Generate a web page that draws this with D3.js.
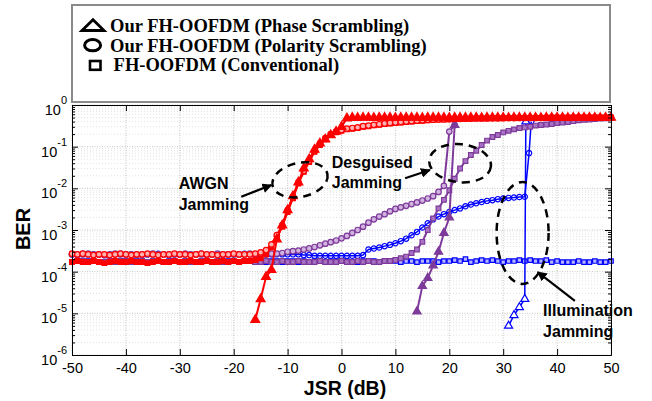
<html>
<head>
<meta charset="utf-8">
<style>
    body { margin: 0; background: #fff; }
    .sans { font-family: Arial, "Liberation Sans", sans-serif; }
    .serif { font-family: "Liberation Serif", "Times New Roman", serif; }
</style>
</head>
<body>
<svg id="chart" width="652" height="401"></svg>
<script src="https://cdn.jsdelivr.net/npm/d3@7/dist/d3.min.js"></script>
<script>
    // ---- data (BER vs JSR in dB) ----
    const jsr = d3.range(-50, 51);
    const xTicks = [-50, -40, -30, -20, -10, 0, 10, 20, 30, 40, 50];
    const yExps = [0, -1, -2, -3, -4, -5, -6];
    const legendLabels = ["Our FH-OOFDM (Phase Scrambling)", "Our FH-OOFDM (Polarity Scrambling)", "FH-OOFDM (Conventional)"];

    // AWGN jamming (red)
    const awgnPhaseJsr = d3.range(-16, 51);
    const awgnPhase = [
        7e-6, 2.2e-5, 7.5e-5, 1.1e-4, 6e-4, 1.3e-3, 3e-3, 6.5e-3, 1.4e-2, 3e-2,
        5e-2, 8.5e-2, 0.12, 0.15, 0.19, 0.23, 0.3, 0.48, 0.5, 0.49,
        0.5, 0.5, 0.49, 0.5, 0.5, 0.5, 0.49, 0.5, 0.5, 0.5,
        0.5, 0.49, 0.5, 0.5, 0.5, 0.5, 0.49, 0.5, 0.5, 0.5,
        0.5, 0.5, 0.49, 0.5, 0.5, 0.5, 0.5, 0.49, 0.5, 0.5,
        0.5, 0.5, 0.5, 0.49, 0.5, 0.5, 0.5, 0.5, 0.49, 0.5,
        0.5, 0.5, 0.5, 0.5, 0.49, 0.5, 0.5];
    const awgnPolarity = [
        2.7e-4, 2.6e-4, 2.7e-4, 2.6e-4, 2.5e-4, 2.6e-4, 2.6e-4, 2.5e-4, 2.6e-4, 2.7e-4,
        2.6e-4, 2.5e-4, 2.6e-4, 2.6e-4, 2.7e-4, 2.6e-4, 2.5e-4, 2.6e-4, 2.6e-4, 2.7e-4,
        2.6e-4, 2.6e-4, 2.5e-4, 2.6e-4, 2.7e-4, 2.6e-4, 2.6e-4, 2.5e-4, 2.6e-4, 2.6e-4,
        2.7e-4, 2.6e-4, 2.6e-4, 2.6e-4, 2.7e-4, 2.9e-4, 3.3e-4, 4.5e-4, 7.5e-4, 1.3e-3,
        3e-3, 6.3e-3, 1.4e-2, 2.6e-2, 4.5e-2, 8e-2, 0.12, 0.16, 0.2, 0.23,
        0.25, 0.27, 0.28, 0.29, 0.31, 0.32, 0.335, 0.345, 0.36, 0.37,
        0.38, 0.39, 0.4, 0.41, 0.42, 0.43, 0.44, 0.445, 0.45, 0.455,
        0.46, 0.465, 0.465, 0.47, 0.47, 0.475, 0.475, 0.48, 0.48, 0.48,
        0.485, 0.485, 0.485, 0.49, 0.49, 0.49, 0.49, 0.49, 0.495, 0.495,
        0.495, 0.495, 0.495, 0.5, 0.5, 0.5, 0.5, 0.5, 0.5, 0.5, 0.5];
    const awgnConv = [
        1.7e-4, 1.8e-4, 1.7e-4, 1.7e-4, 1.8e-4, 1.7e-4, 1.6e-4, 1.7e-4, 1.8e-4, 1.7e-4,
        1.7e-4, 1.8e-4, 1.7e-4, 1.7e-4, 1.6e-4, 1.7e-4, 1.8e-4, 1.7e-4, 1.7e-4, 1.8e-4,
        1.7e-4, 1.7e-4, 1.8e-4, 1.7e-4, 1.7e-4, 1.8e-4, 1.7e-4, 1.7e-4, 1.8e-4, 1.7e-4,
        1.8e-4, 1.7e-4, 1.8e-4, 1.8e-4, 1.9e-4, 2.1e-4, 2.6e-4, 3.8e-4, 6.5e-4, 1.2e-3,
        2.7e-3, 5.8e-3, 1.3e-2, 2.5e-2, 4.3e-2, 7.5e-2, 0.11, 0.15, 0.19, 0.22,
        0.24, 0.26, 0.27, 0.28, 0.3, 0.31, 0.325, 0.335, 0.35, 0.36,
        0.37, 0.38, 0.39, 0.4, 0.41, 0.42, 0.43, 0.44, 0.445, 0.45,
        0.455, 0.46, 0.46, 0.465, 0.47, 0.47, 0.475, 0.475, 0.48, 0.48,
        0.48, 0.485, 0.485, 0.485, 0.49, 0.49, 0.49, 0.49, 0.49, 0.495,
        0.495, 0.495, 0.495, 0.5, 0.5, 0.5, 0.5, 0.5, 0.5, 0.5, 0.5];

    // Desguised jamming (purple)
    const disgPhaseJsr = [14, 15, 16, 17, 18, 19, 20, 21];
    const disgPhase = [1.1e-5, 4.5e-5, 7e-5, 1.4e-4, 3e-4, 8.5e-4, 2e-3, 0.33];
    const disgPolarityJsr = d3.range(-50, 22);
    const disgPolarity = [
        2.6e-4, 2.5e-4, 2.6e-4, 2.7e-4, 2.6e-4, 2.6e-4, 2.5e-4, 2.6e-4, 2.7e-4, 2.6e-4,
        2.6e-4, 2.6e-4, 2.5e-4, 2.6e-4, 2.6e-4, 2.7e-4, 2.6e-4, 2.6e-4, 2.5e-4, 2.6e-4,
        2.6e-4, 2.7e-4, 2.6e-4, 2.6e-4, 2.6e-4, 2.5e-4, 2.6e-4, 2.7e-4, 2.6e-4, 2.6e-4,
        2.6e-4, 2.6e-4, 2.6e-4, 2.7e-4, 2.6e-4, 2.6e-4, 2.6e-4, 2.7e-4, 2.7e-4, 2.8e-4,
        3e-4, 3.1e-4, 3.2e-4, 3.4e-4, 3.6e-4, 3.9e-4, 4.3e-4, 4.7e-4, 5.1e-4, 5.6e-4,
        6.3e-4, 7.2e-4, 8.5e-4, 1e-3, 1.2e-3, 1.5e-3, 1.8e-3, 2.1e-3, 2.4e-3, 2.8e-3,
        3.2e-3, 3.5e-3, 3.8e-3, 4.2e-3, 4.6e-3, 5.1e-3, 5.7e-3, 6.5e-3, 8.2e-3, 1.15e-2,
        0.23, 0.33];
    const disgConv = [
        1.7e-4, 1.8e-4, 1.8e-4, 1.7e-4, 1.8e-4, 1.7e-4, 1.7e-4, 1.8e-4, 1.7e-4, 1.8e-4,
        1.8e-4, 1.7e-4, 1.7e-4, 1.8e-4, 1.7e-4, 1.8e-4, 1.8e-4, 1.7e-4, 1.7e-4, 1.8e-4,
        1.7e-4, 1.8e-4, 1.7e-4, 1.7e-4, 1.8e-4, 1.8e-4, 1.7e-4, 1.8e-4, 1.7e-4, 1.7e-4,
        1.8e-4, 1.7e-4, 1.8e-4, 1.8e-4, 1.7e-4, 1.7e-4, 1.8e-4, 1.7e-4, 1.7e-4, 1.8e-4,
        1.7e-4, 1.7e-4, 1.8e-4, 1.7e-4, 1.7e-4, 1.7e-4, 1.8e-4, 1.7e-4, 1.7e-4, 1.7e-4,
        1.8e-4, 1.7e-4, 1.7e-4, 1.8e-4, 1.7e-4, 1.8e-4, 1.7e-4, 1.7e-4, 1.8e-4, 1.8e-4,
        1.9e-4, 2.1e-4, 2.3e-4, 2.8e-4, 3.4e-4, 5.2e-4, 1e-3, 1.9e-3, 3.3e-3, 5.3e-3,
        9e-3, 1.7e-2, 3e-2, 4.5e-2, 6.3e-2, 8e-2, 0.11, 0.14, 0.17, 0.19,
        0.22, 0.24, 0.26, 0.28, 0.29, 0.3, 0.32, 0.33, 0.34, 0.35,
        0.37, 0.38, 0.39, 0.41, 0.43, 0.44, 0.45, 0.46, 0.47, 0.48, 0.49];

    // Illumination jamming (blue)
    const illumPhaseJsr = [31, 32, 33, 34, 34.2];
    const illumPhase = [5e-6, 9e-6, 1.4e-5, 2.2e-5, 0.4];
    const illumPolarityJsr = d3.range(-50, 35).concat([34.8, 35.2]);
    const illumPolarity = [
        2.6e-4, 2.6e-4, 2.7e-4, 2.6e-4, 2.6e-4, 2.6e-4, 2.5e-4, 2.6e-4, 2.6e-4, 2.7e-4,
        2.6e-4, 2.6e-4, 2.6e-4, 2.5e-4, 2.6e-4, 2.6e-4, 2.7e-4, 2.6e-4, 2.6e-4, 2.6e-4,
        2.6e-4, 2.6e-4, 2.6e-4, 2.6e-4, 2.7e-4, 2.6e-4, 2.6e-4, 2.6e-4, 2.5e-4, 2.6e-4,
        2.6e-4, 2.6e-4, 2.7e-4, 2.6e-4, 2.6e-4, 2.6e-4, 2.6e-4, 2.6e-4, 2.6e-4, 2.6e-4,
        2.6e-4, 2.6e-4, 2.6e-4, 2.5e-4, 2.5e-4, 2.4e-4, 2.4e-4, 2.4e-4, 2.4e-4, 2.4e-4,
        2.4e-4, 2.4e-4, 2.4e-4, 2.4e-4, 2.5e-4, 3.4e-4, 3.6e-4, 3.8e-4, 4.1e-4, 4.4e-4,
        4.8e-4, 5.4e-4, 6.2e-4, 7.5e-4, 9e-4, 1.15e-3, 1.45e-3, 1.8e-3, 2.1e-3, 2.4e-3,
        2.7e-3, 3e-3, 3.3e-3, 3.7e-3, 4.1e-3, 4.4e-3, 4.7e-3, 5e-3, 5.2e-3, 5.5e-3,
        5.7e-3, 5.9e-3, 6e-3, 6.2e-3, 6.3e-3,
        0.07, 0.4];
    const illumConv = [
        1.7e-4, 1.8e-4, 1.7e-4, 1.8e-4, 1.8e-4, 1.7e-4, 1.7e-4, 1.8e-4, 1.8e-4, 1.7e-4,
        1.8e-4, 1.7e-4, 1.8e-4, 1.7e-4, 1.7e-4, 1.8e-4, 1.8e-4, 1.7e-4, 1.8e-4, 1.8e-4,
        1.7e-4, 1.8e-4, 1.7e-4, 1.7e-4, 1.8e-4, 1.8e-4, 1.7e-4, 1.8e-4, 1.7e-4, 1.8e-4,
        1.8e-4, 1.7e-4, 1.8e-4, 1.8e-4, 1.7e-4, 1.8e-4, 1.7e-4, 1.8e-4, 1.8e-4, 1.7e-4,
        1.8e-4, 1.8e-4, 1.7e-4, 1.8e-4, 1.7e-4, 1.8e-4, 1.8e-4, 1.7e-4, 1.8e-4, 1.8e-4,
        1.8e-4, 1.8e-4, 1.7e-4, 1.7e-4, 1.8e-4, 1.8e-4, 1.8e-4, 1.7e-4, 1.8e-4, 1.8e-4,
        1.8e-4, 1.7e-4, 1.8e-4, 1.8e-4, 1.7e-4, 1.8e-4, 1.8e-4, 1.8e-4, 1.7e-4, 1.8e-4,
        1.8e-4, 1.9e-4, 1.8e-4, 2e-4, 1.7e-4, 1.8e-4, 1.9e-4, 1.8e-4, 1.9e-4, 1.8e-4,
        1.7e-4, 1.8e-4, 1.8e-4, 1.9e-4, 1.8e-4, 1.9e-4, 1.8e-4, 1.8e-4, 1.9e-4, 1.7e-4,
        1.8e-4, 1.7e-4, 1.7e-4, 1.7e-4, 1.8e-4, 1.7e-4, 1.7e-4, 1.8e-4, 1.7e-4, 1.7e-4, 1.8e-4];

    // annotations, placed in data units [jsr, ber]
    const notes = [
        {lines: ["AWGN", "Jamming"], at: [-30.2, 9.6e-3], from: [-18.6, 6.3e-3], to: [-13, 1.2e-2], ell: [-7.7, 1.6e-2], rx: 28, ry: 17, rot: -12},
        {lines: ["Desguised", "Jamming"], at: [-1.8, 3.1e-2], from: [11.8, 1.75e-2], to: [16.4, 2.75e-2], ell: [22, 4e-2], rx: 31, ry: 19, rot: 6},
        {lines: ["Illumination", "Jamming"], at: [37.4, 8.6e-6], from: [43.3, 2e-5], to: [36.4, 9.8e-5], ell: [33.6, 8.5e-4], rx: 26, ry: 51, rot: 0}
    ];

    const red = "#ff0000", purple = "#7e3a9a", blue = "#0000ff";

    // ---- scales ----
    const svg = d3.select("#chart");
    const plotL = 72, plotR = 611, plotT = 105, plotB = 355;
    const x = d3.scaleLinear().domain([-50, 50]).range([plotL, plotR]);
    const y = d3.scaleLog().domain([1e-6, 1]).range([plotB, plotT]);

    const majorY = yExps.map(e => Math.pow(10, e));
    let minorY = [];
    yExps.slice(1).forEach(e => {
        for (let k = 2; k <= 9; k++) minorY.push(k * Math.pow(10, e));
    });

    // ---- grid ----
    const grid = svg.append("g");
    grid.selectAll(".minor").data(minorY).join("line")
        .attr("x1", plotL).attr("x2", plotR)
        .attr("y1", d => y(d)).attr("y2", d => y(d))
        .attr("stroke", "#e2e2e2").attr("stroke-dasharray", "1,2");
    grid.selectAll(".hmajor").data(majorY).join("line")
        .attr("x1", plotL).attr("x2", plotR)
        .attr("y1", d => y(d)).attr("y2", d => y(d))
        .attr("stroke", "#c4c4c4").attr("stroke-dasharray", "1,1.5");
    grid.selectAll(".vmajor").data(xTicks).join("line")
        .attr("x1", d => x(d)).attr("x2", d => x(d))
        .attr("y1", plotT).attr("y2", plotB)
        .attr("stroke", "#c4c4c4").attr("stroke-dasharray", "1,1.5");

    // ---- curves ----
    const curves = [
        {jsr: jsr, ber: illumConv, color: blue, shape: d3.symbolSquare, size: 20, fill: "#b4b4ff", w: 1.5},
        {jsr: illumPolarityJsr, ber: illumPolarity, color: blue, shape: d3.symbolCircle, size: 22, fill: "none", w: 1.5},
        {jsr: illumPhaseJsr, ber: illumPhase, color: blue, shape: d3.symbolTriangle, size: 28, fill: "#fff", w: 1.5},
        {jsr: jsr, ber: disgConv, color: purple, shape: d3.symbolSquare, size: 22, fill: "#a774c4", w: 2},
        {jsr: disgPolarityJsr, ber: disgPolarity, color: purple, shape: d3.symbolCircle, size: 24, fill: "#d2b4e0", w: 2},
        {jsr: disgPhaseJsr, ber: disgPhase, color: purple, shape: d3.symbolTriangle, size: 30, fill: purple, w: 2},
        {jsr: jsr, ber: awgnConv, color: red, shape: d3.symbolSquare, size: 22, fill: red, w: 2},
        {jsr: jsr, ber: awgnPolarity, color: red, shape: d3.symbolCircle, size: 24, fill: "#ffb0b0", w: 2},
        {jsr: awgnPhaseJsr, ber: awgnPhase, color: red, shape: d3.symbolTriangle, size: 34, fill: red, w: 2}
    ];

    const line = d3.line().x(d => x(d[0])).y(d => y(d[1]));

    curves.forEach(c => {
        const pts = d3.zip(c.jsr, c.ber);
        svg.append("path").datum(pts)
            .attr("d", line)
            .attr("fill", "none")
            .attr("stroke", c.color)
            .attr("stroke-width", c.w);
        svg.append("g").selectAll("path").data(pts).join("path")
            .attr("transform", d => `translate(${x(d[0])},${y(d[1])})`)
            .attr("d", d3.symbol(c.shape, c.size))
            .attr("fill", c.fill)
            .attr("stroke", c.color)
            .attr("stroke-width", 1.2);
    });

    // ---- axes (ticks point inside, like matlab) ----
    const axStyle = g => {
        g.selectAll(".domain").attr("stroke", "#000");
        g.selectAll(".tick line").attr("stroke", "#000");
    };
    svg.append("g").attr("transform", `translate(0,${plotB})`)
        .call(d3.axisBottom(x).tickValues(xTicks).tickSize(-6).tickSizeOuter(0).tickPadding(8)
            .tickFormat(d => String(d)))
        .call(axStyle)
        .call(g => g.selectAll("text").attr("class", "sans").attr("font-size", 14.5).attr("fill", "#000"));
    svg.append("g").attr("transform", `translate(0,${plotT})`)
        .call(d3.axisTop(x).tickValues(xTicks).tickSize(-6).tickSizeOuter(0).tickFormat(""))
        .call(axStyle);
    svg.append("g").attr("transform", `translate(${plotL},0)`)
        .call(d3.axisLeft(y).tickValues(majorY).tickSize(-6).tickSizeOuter(0).tickFormat(""))
        .call(axStyle);
    svg.append("g").attr("transform", `translate(${plotL},0)`)
        .call(d3.axisLeft(y).tickValues(minorY).tickSize(-3).tickSizeOuter(0).tickFormat(""))
        .call(axStyle);
    svg.append("g").attr("transform", `translate(${plotR},0)`)
        .call(d3.axisRight(y).tickValues(majorY).tickSize(-6).tickSizeOuter(0).tickFormat(""))
        .call(axStyle);
    svg.append("g").attr("transform", `translate(${plotR},0)`)
        .call(d3.axisRight(y).tickValues(minorY).tickSize(-3).tickSizeOuter(0).tickFormat(""))
        .call(axStyle);

    // y tick labels 10^n
    svg.append("g").selectAll("text").data(yExps).join("text")
        .attr("class", "sans")
        .attr("x", 67).attr("y", d => y(Math.pow(10, d)) + 10)
        .attr("text-anchor", "end").attr("font-size", 14.5)
        .text("10")
        .append("tspan").attr("dy", -11).attr("font-size", 11)
        .text(d => String(d));

    // axis titles
    svg.append("text").attr("class", "sans").attr("x", 345).attr("y", 395)
        .attr("text-anchor", "middle").attr("font-size", 19.5).attr("font-weight", "bold")
        .text("JSR (dB)");
    svg.append("text").attr("class", "sans").attr("transform", "translate(30,229) rotate(-90)")
        .attr("text-anchor", "middle").attr("font-size", 20).attr("font-weight", "bold")
        .text("BER");

    // ---- annotations ----
    svg.append("defs").append("marker")
        .attr("id", "head").attr("viewBox", "0 0 10 10")
        .attr("refX", 9).attr("refY", 5)
        .attr("markerWidth", 4.5).attr("markerHeight", 4.5)
        .attr("markerUnits", "strokeWidth").attr("orient", "auto")
        .append("path").attr("d", "M0,0 L10,5 L0,10 z").attr("fill", "#000");

    const ann = svg.append("g");
    notes.forEach(n => {
        ann.append("ellipse")
            .attr("transform", `translate(${x(n.ell[0])},${y(n.ell[1])}) rotate(${n.rot})`)
            .attr("rx", n.rx).attr("ry", n.ry)
            .attr("fill", "none").attr("stroke", "#000")
            .attr("stroke-width", 2.5).attr("stroke-dasharray", "8,6");
        ann.append("line")
            .attr("x1", x(n.from[0])).attr("y1", y(n.from[1]))
            .attr("x2", x(n.to[0])).attr("y2", y(n.to[1]))
            .attr("stroke", "#000").attr("stroke-width", 2.2)
            .attr("marker-end", "url(#head)");
        ann.append("text")
            .attr("class", "sans")
            .attr("x", x(n.at[0])).attr("y", y(n.at[1]))
            .attr("font-size", 16).attr("font-weight", "bold")
            .selectAll("tspan").data(n.lines).join("tspan")
            .attr("x", x(n.at[0])).attr("dy", (d, i) => i ? 20.5 : 0)
            .text(d => d);
    });

    // ---- legend ----
    const lg = svg.append("g");
    lg.append("rect").attr("x", 72).attr("y", 5).attr("width", 538).attr("height", 97)
        .attr("fill", "#fff").attr("stroke", "#8a8a8a").attr("stroke-width", 2);
    lg.append("path").attr("d", "M82,30.5 L93,19.8 L104,30.5 Z")
        .attr("fill", "none").attr("stroke", "#000").attr("stroke-width", 2.8).attr("stroke-linejoin", "miter");
    lg.append("ellipse").attr("cx", 92.6).attr("cy", 45.2).attr("rx", 8).attr("ry", 5.6)
        .attr("fill", "none").attr("stroke", "#000").attr("stroke-width", 3);
    lg.append("rect").attr("x", 90).attr("y", 61).attr("width", 10.5).attr("height", 8.8)
        .attr("fill", "none").attr("stroke", "#000").attr("stroke-width", 2.6);
    lg.selectAll("text.lab").data(legendLabels).join("text")
        .attr("class", "serif")
        .attr("x", (d, i) => i === 2 ? 113.6 : 110)
        .attr("y", (d, i) => [32, 52, 71.4][i])
        .attr("font-weight", "bold").attr("font-size", 18.5)
        .text(d => d);
</script>
</body>
</html>
